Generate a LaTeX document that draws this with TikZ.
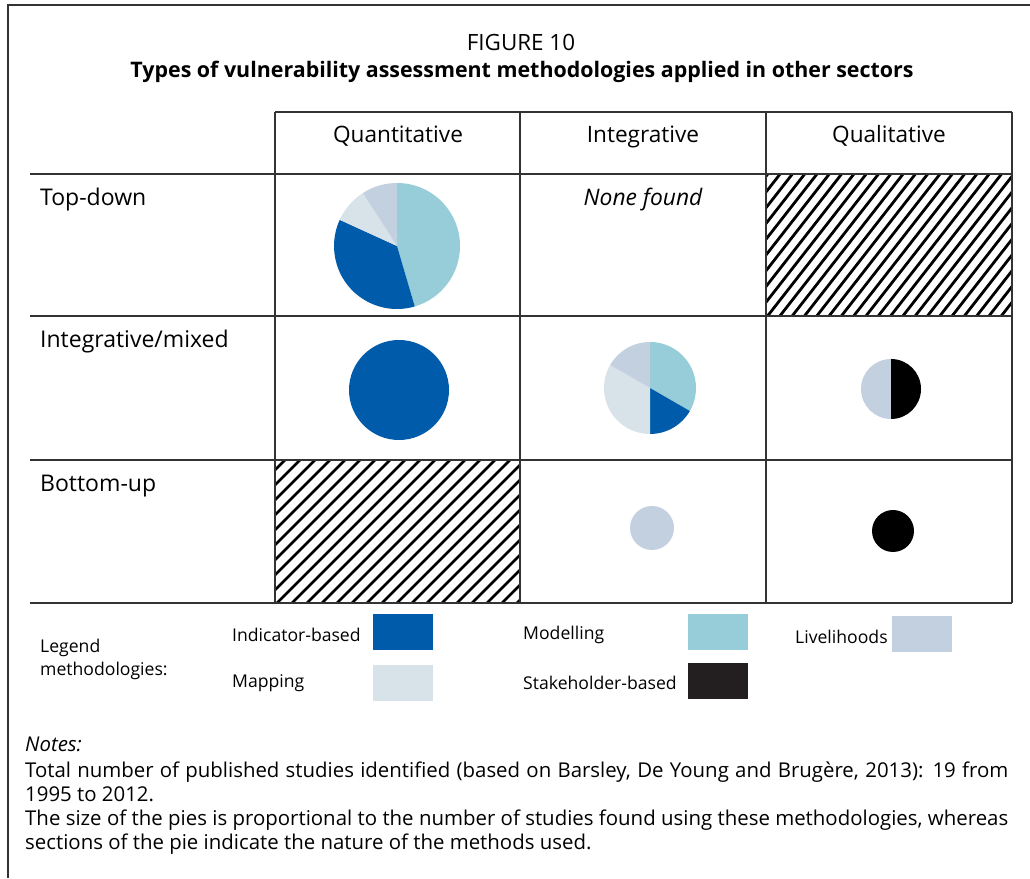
\documentclass[tikz,border=0pt]{standalone}
\usepackage{fontspec}
\setmainfont{Open Sans}
\usetikzlibrary{calc}
\definecolor{indic}{HTML}{005BAA}
\definecolor{model}{HTML}{96CDD9}
\definecolor{livel}{HTML}{C3D0E0}
\definecolor{mapc}{HTML}{D8E2E9}
\definecolor{stake}{HTML}{231F20}
\definecolor{rule}{HTML}{333333}
\begin{document}
\begin{tikzpicture}[x=1pt,y=1pt,
  grid/.style={draw=rule, line width=1.4pt},
  hatch/.style={line width=2.8pt, black},
  head/.style={font=\fontsize{22.6}{26}\selectfont, anchor=base, inner sep=0pt},
  rowlab/.style={font=\fontsize{23}{26}\selectfont, anchor=base west, inner sep=0pt},
  legtext/.style={font=\fontsize{17.6}{21}\selectfont, anchor=west, inner sep=0pt},
  legbox/.style={minimum width=60pt, minimum height=36pt, inner sep=0pt}]
\useasboundingbox (0,0) rectangle (1030,878);

% frame
\draw[rule, line width=1.2pt] (8,0) -- (8,873) -- (1030,873);

\node[font=\fontsize{22.4}{26}\selectfont] (fig) at (521,836) {FIGURE 10};
\node[font=\fontsize{21.4}{26}\selectfont\bfseries] (title) at (522,806) {Types of vulnerability assessment methodologies applied in other sectors};

% table
\begin{scope}[grid]
\draw (275,766) -- (1012,766);
\foreach \y in {704,562,418,275}{\draw (30,\y) -- (1012,\y);}
\foreach \x in {275,520,766,1012}{\draw (\x,766) -- (\x,275);}
\end{scope}

\node[head] (hquant) at (398,735) {Quantitative};
\node[head] (hinteg) at (643,735) {Integrative};
\node[head] (hqual) at (889,735) {Qualitative};

\node[rowlab] (rtop) at (40,672) {Top-down};
\node[rowlab] (rmix) at (40,530) {Integrative/mixed};
\node[rowlab] (rbot) at (40,386) {Bottom-up};

\node[head, font=\fontsize{22.8}{26}\selectfont\itshape] (none) at (643,672) {None found};

% hatched cells
\begin{scope}
\clip (766,562) rectangle (1012,704);
\foreach \i in {-12,...,21}{\draw[hatch] (766+\i*12.3,560) -- ++(52:200);}
\end{scope}
\begin{scope}
\clip (275,275) rectangle (520,418);
\foreach \i in {-11,...,17}{\draw[hatch] (275+\i*15,273) -- ++(45:220);}
\end{scope}
\draw[grid] (766,562) rectangle (1012,704);
\draw[grid] (275,275) rectangle (520,418);

% pies
\coordinate (p1) at (397,632);
\coordinate (p2) at (399,488);
\coordinate (p3) at (650,490);
\coordinate (p4) at (891,489);
\coordinate (p5) at (652,350);
\coordinate (p6) at (893,347);

\foreach \a/\b/\c in {90/-73.64/model,-73.64/-204.55/indic,-204.55/-237.27/mapc,-237.27/-270/livel}
{\fill[\c] (p1) -- ++(\a:63) arc[start angle=\a, end angle=\b, radius=63] -- cycle;}
\fill[indic] (p2) circle (50);
\foreach \a/\b/\c in {90/-30/model,-30/-90/indic,-90/-210/mapc,-210/-270/livel}
{\fill[\c] (p3) -- ++(\a:46) arc[start angle=\a, end angle=\b, radius=46] -- cycle;}
\foreach \a/\b/\c in {90/270/livel,-90/90/black}
{\fill[\c] (p4) -- ++(\a:30) arc[start angle=\a, end angle=\b, radius=30] -- cycle;}
\fill[livel] (p5) circle (22);
\fill[black] (p6) circle (21);

% legend
\node[legtext, align=left, font=\fontsize{17.6}{23}\selectfont] (leg) at (40,219) {Legend\\methodologies:};
\node[legtext] (tind) at (232,243) {Indicator-based};
\node[legtext] (tmap) at (232,195) {Mapping};
\node[legtext] (tmod) at (523,243) {Modelling};
\node[legtext] (tsta) at (523,195) {Stakeholder-based};
\node[legtext] (tliv) at (795,241) {Livelihoods};
\node[legbox, fill=indic] (bind) at (403,246) {};
\node[legbox, fill=mapc] (bmap) at (403,195) {};
\node[legbox, fill=model] (bmod) at (718,246) {};
\node[legbox, fill=stake] (bsta) at (718,197) {};
\node[legbox, fill=livel] (bliv) at (922,244) {};

% notes
\node[anchor=base west, inner sep=0pt, font=\fontsize{20.4}{24}\selectfont\itshape] (notes) at (25,126) {Notes:};
\node[anchor=north west, inner sep=0pt, text width=983pt, align=justify,
  font=\fontsize{20.4}{24}\selectfont] (ntext) at (25,116)
  {Total number of published studies identified (based on Barsley, De Young and Brugère, 2013): 19 from\linebreak 1995 to 2012.\par
   The size of the pies is proportional to the number of studies found using these methodologies, whereas\linebreak sections of the pie indicate the nature of the methods used.};
\end{tikzpicture}
\end{document}
